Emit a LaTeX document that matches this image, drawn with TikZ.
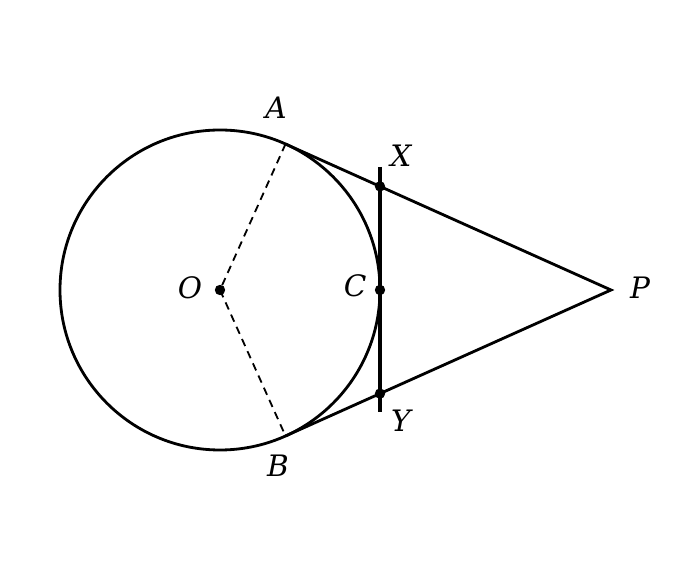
\documentclass[tikz,border=0pt]{standalone}
\usepackage{fontspec}
\setmainfont{DejaVu Serif}
\begin{document}
\begin{tikzpicture}[every node/.style={font=\fontsize{21}{24}\selectfont\itshape}]
        \useasboundingbox (-5.5,-7.25) rectangle (11.55,7.25);
        \coordinate (O) at (0,0);
        \coordinate (P) at (9.775,0);
        \coordinate (A) at (1.638,3.649);
        \coordinate (B) at (1.638,-3.649);
        \coordinate (X) at (4,2.59);
        \coordinate (Y) at (4,-2.59);
        \coordinate (C) at (4,0);
        \coordinate (Xtop) at (4,3.08);
        \coordinate (Ybot) at (4,-3.05);
        \node[] (Alab) at (1.4,4.55) {A};
        \node[] (Blab) at (1.45,-4.4) {B};
        \node[] (Xlab) at (4.52,3.35) {X};
        \node[] (Ylab) at (4.52,-3.28) {Y};
        \node[] (Clab) at (3.38,0.1) {C};
        \node[] (Olab) at (-0.75,0.05) {O};
        \node[] (Plab) at (10.5,0.05) {P};
        \draw[line width=2pt] (O) circle (4);
        \draw[line width=2pt] (A) -- (P) -- (B);
        \draw[line width=2.2pt] (Xtop) -- (Ybot);
        \draw[dash pattern=on 5.5pt off 4pt, line width=1.3pt] (A) -- (O) -- (B);
        \fill (O) circle (0.13);
        \fill (X) circle (0.13);
        \fill (Y) circle (0.13);
        \fill (C) circle (0.13);
    \end{tikzpicture}
\end{document}
